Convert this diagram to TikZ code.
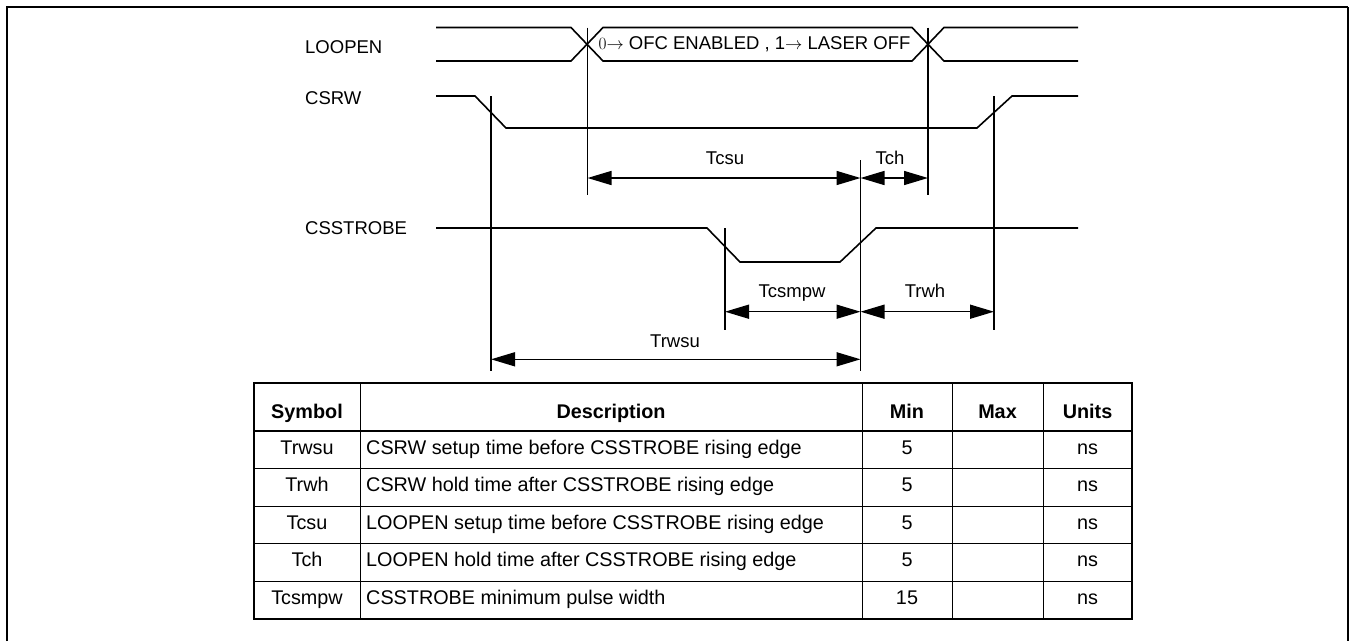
\documentclass[tikz,border=0pt]{standalone}
\usepackage{fontspec}
\setmainfont{Liberation Sans}
\usetikzlibrary{arrows.meta}

\begin{document}
\begin{tikzpicture}[x=1pt,y=-1pt,font=\fontsize{18.5}{22}\selectfont,
 sig/.style={line width=1.6pt},
 guide/.style={line width=1.4pt},
 dim/.style={line width=1.5pt,{Triangle[length=24pt,width=14pt]}-{Triangle[length=24pt,width=14pt]}},
 lbl/.style={inner sep=0pt,anchor=base},
 cell/.style={inner sep=0pt,anchor=base,font=\fontsize{19.8}{23}\selectfont},
 head/.style={cell,font=\fontsize{19.8}{23}\selectfont\bfseries}]
\useasboundingbox (0,0) rectangle (1349,641);
% frame
\draw[line width=2.4pt] (7,641)--(7,7)--(1348,7);
\draw[line width=1.2pt] (1348,7)--(1348,641);
% signal names
\node[lbl,anchor=base west] (loopen) at (305,53.3) {LOOPEN};
\node[lbl,anchor=base west] (csrw) at (305,104.6) {CSRW};
\node[lbl,anchor=base west] (csstrobe) at (305,234.6) {CSSTROBE};
% waveforms
\draw[sig] (436,27.5)--(571,27.5)--(603,61)--(912,61)--(944,27.5)--(1078,27.5);
\draw[sig] (436,61)--(571,61)--(603,27.5)--(912,27.5)--(944,61)--(1078,61);
\node[inner sep=0pt] (mode) at (754.5,44) {$0{\rightarrow}$ OFC ENABLED , 1$\rightarrow$ LASER OFF};
\draw[sig] (436,96)--(475,96)--(506,128)--(977,128)--(1012,96)--(1078,96);
\draw[sig] (436,228)--(707,228)--(740,262)--(840,262)--(876,228)--(1078,228);
% guide lines
\coordinate (g1t) at (491,96);    \coordinate (g1b) at (491,371);
\coordinate (g2t) at (587.5,27.5); \coordinate (g2b) at (587.5,195);
\coordinate (g3t) at (928,27.5);  \coordinate (g3b) at (928,195);
\coordinate (g4t) at (860.5,160); \coordinate (g4b) at (860.5,371);
\coordinate (g5t) at (725,228);   \coordinate (g5b) at (725,330);
\coordinate (g6t) at (994,96);    \coordinate (g6b) at (994,330);
\draw[guide] (g1t)--(g1b);
\draw[guide] (g2t)--(g2b);
\draw[guide] (g3t)--(g3b);
\draw[guide] (g4t)--(g4b);
\draw[guide] (g5t)--(g5b);
\draw[guide] (g6t)--(g6b);
% timing arrows
\coordinate (ya) at (0,178);
\coordinate (yb) at (0,311.7);
\coordinate (yc) at (0,359.3);
\draw[dim] (g2t|-ya)--(g4t|-ya);
\draw[dim] (g4t|-ya)--(g3t|-ya);
\draw[dim] (g5t|-yb)--(g4t|-yb);
\draw[dim] (g4t|-yb)--(g6t|-yb);
\draw[dim] (g1t|-yc)--(g4t|-yc);
\node[lbl] (tcsu) at (725,164.5) {Tcsu};
\node[lbl] (tch) at (890,164.5) {Tch};
\node[lbl] (tcsmpw) at (792,297) {Tcsmpw};
\node[lbl] (trwh) at (925,297) {Trwh};
\node[lbl] (trwsu) at (675,347) {Trwsu};
% table
\draw[line width=2.2pt] (254,383) rectangle (1132,619);
\draw[line width=1.8pt] (254,431)--(1132,431);
\draw[line width=1pt] (254,468.5)--(1132,468.5);
\draw[line width=1pt] (254,506)--(1132,506);
\draw[line width=1pt] (254,543.5)--(1132,543.5);
\draw[line width=1pt] (254,581)--(1132,581);
\draw[line width=1pt] (360,383)--(360,619);
\draw[line width=1pt] (862,383)--(862,619);
\draw[line width=1pt] (952,383)--(952,619);
\draw[line width=1pt] (1043,383)--(1043,619);
\node[head] (hsym) at (307,418) {Symbol};
\node[head] (hdesc) at (611,418) {Description};
\node[head] (hmin) at (907,418) {Min};
\node[head] (hmax) at (997.5,418) {Max};
\node[head] (hunit) at (1087.5,418) {Units};
\node[cell] (s1) at (307,454) {Trwsu};
\node[cell,anchor=base west] (d1) at (366,454) {CSRW setup time before CSSTROBE rising edge};
\node[cell] (m1) at (907,454) {5};
\node[cell] (u1) at (1087.5,454) {ns};
\node[cell] (s2) at (307,491.5) {Trwh};
\node[cell,anchor=base west] (d2) at (366,491.5) {CSRW hold time after CSSTROBE rising edge};
\node[cell] (m2) at (907,491.5) {5};
\node[cell] (u2) at (1087.5,491.5) {ns};
\node[cell] (s3) at (307,529) {Tcsu};
\node[cell,anchor=base west] (d3) at (366,529) {LOOPEN setup time before CSSTROBE rising edge};
\node[cell] (m3) at (907,529) {5};
\node[cell] (u3) at (1087.5,529) {ns};
\node[cell] (s4) at (307,566.5) {Tch};
\node[cell,anchor=base west] (d4) at (366,566.5) {LOOPEN hold time after CSSTROBE rising edge};
\node[cell] (m4) at (907,566.5) {5};
\node[cell] (u4) at (1087.5,566.5) {ns};
\node[cell] (s5) at (307,604) {Tcsmpw};
\node[cell,anchor=base west] (d5) at (366,604) {CSSTROBE minimum pulse width};
\node[cell] (m5) at (907,604) {15};
\node[cell] (u5) at (1087.5,604) {ns};
\end{tikzpicture}
\end{document}
